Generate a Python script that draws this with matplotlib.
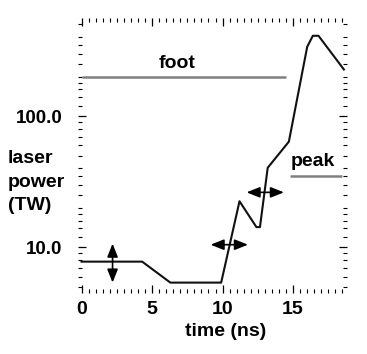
import matplotlib
matplotlib.use("Agg")
import matplotlib.pyplot as plt
from matplotlib.ticker import FixedLocator, FuncFormatter, MultipleLocator
import numpy as np

plt.rcParams['font.family'] = ['Liberation Sans', 'DejaVu Sans']
plt.rcParams['font.weight'] = 'bold'

# Laser pulse shape: time (ns) vs power (TW)
time_ns = [0.0, 4.3, 6.3, 9.9, 11.2, 12.4, 12.65, 13.2, 14.7, 16.0, 16.4, 16.8, 18.6]
power_tw = [7.8, 7.8, 5.4, 5.4, 22.5, 14.3, 14.3, 40.5, 64.0, 338.0, 410.0, 410.0, 227.0]

# Reference levels for the foot and peak portions
foot_level = 200.0
foot_span = [0.0, 14.5]
peak_level = 35.0
peak_span = [14.8, 18.5]

# Double-headed arrows: (x0, y0, x1, y1)
arrows = [
    (2.2, 10.7, 2.2, 5.4),
    (9.15, 10.5, 11.8, 10.5),
    (11.7, 26.3, 14.35, 26.3),
]

x_major = [0, 5, 10, 15]
y_major = [10.0, 100.0]
y_minor_steps = [1.2, 1.4, 1.6, 1.8, 2.0, 2.5, 3.0, 3.5, 4.0, 5.0, 6.0, 7.0, 8.0, 9.0]

ylabel_lines = ['laser', 'power', '(TW)']

W, H = 367, 354
fig = plt.figure(figsize=(W / 100, H / 100), dpi=100)
ax = fig.add_axes([78 / W, 1 - 293 / H, (346.7 - 78) / W, (293 - 17.5) / H])

ax.plot(foot_span, [foot_level, foot_level], color='#808080', lw=1.8, solid_capstyle='butt')
ax.plot(peak_span, [peak_level, peak_level], color='#808080', lw=1.8, solid_capstyle='butt')
ax.plot(time_ns, power_tw, color='#111111', lw=1.5)

for x0, y0, x1, y1 in arrows:
    ax.annotate('', xy=(x1, y1), xytext=(x0, y0),
                arrowprops=dict(arrowstyle='<|-|>,head_length=0.8,head_width=0.32',
                                color='black', lw=1.2, mutation_scale=10,
                                shrinkA=0, shrinkB=0))

ax.text(np.mean(foot_span) - 0.5, 231, 'foot', ha='center', va='baseline', fontsize=14)
ax.text(peak_span[0] + 0.05, 41.5, 'peak', ha='left', va='baseline', fontsize=14)

ax.set_yscale('log')
ax.set_xlim(-0.25, 18.8)
ax.set_ylim(4.5, 565)

for s in ax.spines.values():
    s.set_visible(False)

ax.xaxis.set_major_locator(FixedLocator(x_major))
ax.xaxis.set_minor_locator(MultipleLocator(0.5))
ax.yaxis.set_major_locator(FixedLocator(y_major))
minor_vals = [s * 10.0 ** k for k in range(0, 3) for s in y_minor_steps]
ax.yaxis.set_minor_locator(FixedLocator(minor_vals))
ax.yaxis.set_major_formatter(FuncFormatter(lambda v, p: f'{v:.1f}'))
ax.yaxis.set_minor_formatter(FuncFormatter(lambda v, p: ''))

ax.tick_params(which='both', direction='in', top=True, right=True, color='black')
ax.tick_params(which='major', length=6, width=0.9)
ax.tick_params(which='minor', length=3, width=0.8)
ax.tick_params(axis='x', which='major', pad=6, labelsize=14)
ax.tick_params(axis='y', which='major', pad=11, labelsize=13.5)

fig.text(225.5 / W, 1 - 332 / H, 'time (ns)', ha='center', va='center', fontsize=14)
for line, base in zip(ylabel_lines, [163, 187, 210]):
    fig.text(8 / W, 1 - base / H, line, ha='left', va='baseline', fontsize=14)

fig.savefig('out.png', dpi=100)
